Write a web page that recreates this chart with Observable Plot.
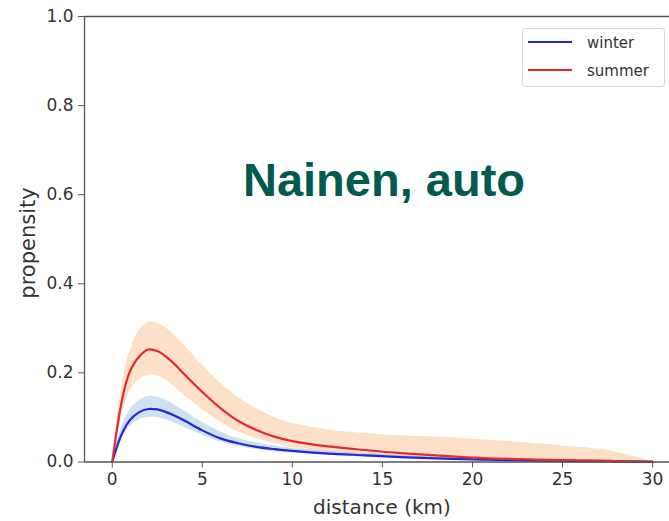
<!DOCTYPE html>
<html>
<head>
<meta charset="utf-8">
<script src="https://cdn.jsdelivr.net/npm/d3@7"></script>
<script src="https://cdn.jsdelivr.net/npm/@observablehq/plot@0.6"></script>
<style>
  html, body { margin: 0; padding: 0; background: #fff; }
  #chart { width: 669px; height: 521px; }
</style>
</head>
<body>
<div id="chart"></div>
<script>
// distance (km)
const xs = [0, 0.25, 0.5, 0.75, 1, 1.5, 2, 2.5, 3, 3.5, 4, 5, 6, 7, 8, 9, 10, 12, 14, 16, 18, 20, 22, 25, 27, 28, 29, 30];
// summer propensity: mean and band
const summerMean = [0, 0.07, 0.13, 0.175, 0.205, 0.237, 0.2525, 0.249, 0.236, 0.218, 0.197, 0.157, 0.121, 0.092, 0.072, 0.057, 0.047, 0.035, 0.027, 0.020, 0.015, 0.010, 0.007, 0.004, 0.003, 0.002, 0.0015, 0.001];
const summerHi   = [0, 0.09, 0.16, 0.215, 0.25, 0.295, 0.313, 0.312, 0.300, 0.283, 0.262, 0.218, 0.178, 0.145, 0.120, 0.100, 0.087, 0.072, 0.064, 0.059, 0.056, 0.051, 0.046, 0.036, 0.029, 0.022, 0.012, 0];
const summerLo   = [0, 0.05, 0.10, 0.135, 0.160, 0.185, 0.195, 0.193, 0.183, 0.167, 0.150, 0.118, 0.090, 0.068, 0.052, 0.041, 0.032, 0.022, 0.016, 0.012, 0.008, 0.005, 0.003, 0.001, 0.0005, 0.0003, 0.0001, 0];
// winter propensity: mean and band
const winterMean = [0, 0.033, 0.06, 0.08, 0.095, 0.112, 0.119, 0.118, 0.112, 0.103, 0.093, 0.071, 0.053, 0.042, 0.034, 0.029, 0.025, 0.019, 0.015, 0.011, 0.008, 0.006, 0.004, 0.002, 0.0015, 0.001, 0.0007, 0.0005];
const winterHi   = [0, 0.042, 0.075, 0.1, 0.118, 0.138, 0.147, 0.146, 0.138, 0.127, 0.115, 0.089, 0.068, 0.053, 0.043, 0.036, 0.031, 0.024, 0.019, 0.015, 0.011, 0.008, 0.006, 0.003, 0.002, 0.001, 0.0005, 0];
const winterLo   = [0, 0.027, 0.05, 0.068, 0.080, 0.095, 0.100, 0.100, 0.095, 0.087, 0.078, 0.060, 0.045, 0.035, 0.028, 0.023, 0.020, 0.015, 0.011, 0.008, 0.006, 0.004, 0.003, 0.001, 0.0007, 0.0005, 0.0002, 0];

const xTicks = [0, 5, 10, 15, 20, 25, 30];
const yTicks = [0, 0.2, 0.4, 0.6, 0.8, 1.0];
const xDomain = [-1.54, 30.94];
const yDomain = [0, 1];
const seriesNames = ["winter", "summer"];
const seriesColors = ["#2525dc", "#e42a30"];
const titleText = "Nainen, auto";
const xLabel = "distance (km)";
const yLabel = "propensity";

const rows = xs.map((x, i) => ({
  x,
  s: summerMean[i], sHi: summerHi[i], sLo: summerLo[i],
  w: winterMean[i], wHi: winterHi[i], wLo: winterLo[i]
}));

const axisColor = "#555";
const textColor = "#333";
const fam = "'DejaVu Sans', Arial, sans-serif";
const titleFam = "'Liberation Sans', Arial, sans-serif";

const chart = Plot.plot({
  width: 669,
  height: 521,
  marginLeft: 84,
  marginRight: 0,
  marginTop: 16,
  marginBottom: 59.5,
  style: { fontFamily: fam, fontSize: "17px", color: textColor, background: "#fff", overflow: "visible" },
  x: { domain: xDomain },
  y: { domain: yDomain },
  marks: [
    Plot.areaY(rows, { x: "x", y1: "sLo", y2: "sHi", fill: "#f9a660", fillOpacity: 0.35, curve: "catmull-rom" }),
    Plot.areaY(rows, { x: "x", y1: "wLo", y2: "wHi", fill: "#5b9bd5", fillOpacity: 0.3, curve: "catmull-rom" }),
    Plot.lineY(rows, { x: "x", y: "w", stroke: seriesColors[0], strokeWidth: 2.2, curve: "catmull-rom" }),
    Plot.lineY(rows, { x: "x", y: "s", stroke: seriesColors[1], strokeWidth: 2.2, curve: "catmull-rom" }),
    Plot.ruleY(yDomain, { stroke: axisColor, strokeWidth: 1.3 }),
    Plot.ruleX([xDomain[0]], { stroke: axisColor, strokeWidth: 1.3 }),
    Plot.axisX({ ticks: xTicks, tickSize: 6, tickPadding: 5, label: null, stroke: axisColor, fill: textColor, fontSize: 17 }),
    Plot.axisY({ ticks: yTicks, tickFormat: d => d.toFixed(1), tickSize: 6, tickPadding: 5, label: null, stroke: axisColor, fill: textColor, fontSize: 17 })
  ]
});

document.getElementById("chart").appendChild(chart);

const svg = d3.select(chart);

// title
svg.append("text")
  .attr("x", 384).attr("y", 196)
  .attr("text-anchor", "middle")
  .attr("font-family", titleFam).attr("font-weight", "bold").attr("font-size", 47)
  .attr("fill", "#005a4f")
  .text(titleText);

// axis labels
svg.append("text")
  .attr("x", 382).attr("y", 514)
  .attr("text-anchor", "middle")
  .attr("font-family", fam).attr("font-size", 20)
  .attr("fill", textColor)
  .text(xLabel);

svg.append("text")
  .attr("transform", "translate(35,243) rotate(-90)")
  .attr("text-anchor", "middle")
  .attr("font-family", fam).attr("font-size", 21)
  .attr("fill", textColor)
  .text(yLabel);

// legend
const lg = svg.append("g");
lg.append("rect")
  .attr("x", 522.5).attr("y", 28.5).attr("width", 142).attr("height", 58)
  .attr("rx", 3).attr("fill", "#fff").attr("fill-opacity", 0.8)
  .attr("stroke", "#d6d6d6").attr("stroke-width", 1);
seriesNames.forEach((name, i) => {
  const y = 42 + i * 28;
  lg.append("line")
    .attr("x1", 528).attr("x2", 572).attr("y1", y).attr("y2", y)
    .attr("stroke", seriesColors[i]).attr("stroke-width", 2.2);
  lg.append("text")
    .attr("x", 587).attr("y", y + 6)
    .attr("text-anchor", "start")
    .attr("font-family", fam).attr("font-size", 15)
    .attr("fill", textColor)
    .text(name);
});
</script>
</body>
</html>
